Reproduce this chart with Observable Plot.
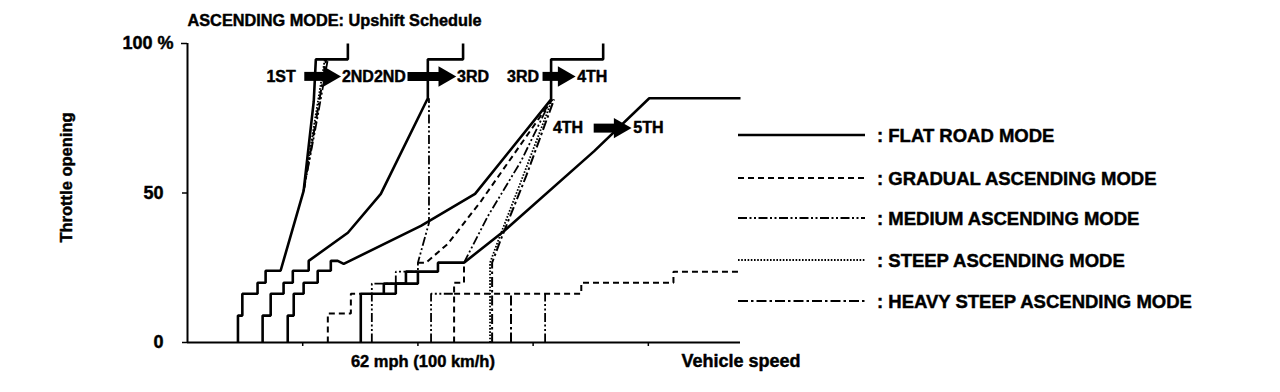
<!DOCTYPE html>
<html>
<head>
<meta charset="utf-8">
<script src="https://cdn.jsdelivr.net/npm/d3@7"></script>
<script src="https://cdn.jsdelivr.net/npm/@observablehq/plot@0.6"></script>
<style>
  html, body { margin: 0; padding: 0; background: #fff; }
  #wrap { position: relative; width: 1280px; height: 392px; overflow: hidden; background: #fff; }
  #legend { position: absolute; left: 0; top: 0; pointer-events: none; }
</style>
</head>
<body>
<div id="wrap"></div>
<script>
// ---------- texts ----------
const titleText = "ASCENDING MODE: Upshift Schedule";
const yAxisLabel = "Throttle opening";
const xMarkLabel = "62 mph (100 km/h)";
const xAxisLabel = "Vehicle speed";
const modes = ["FLAT ROAD MODE", "GRADUAL ASCENDING MODE", "MEDIUM ASCENDING MODE", "STEEP ASCENDING MODE", "HEAVY STEEP ASCENDING MODE"];

// ---------- axes (x: km/h, y: throttle %) ----------
const xTicks = [50, 100, 150, 200];
const yTicks = [0, 50];
const yTopTick = [100];
const yTopLabel = "100 %";

// ---------- upshift lines [km/h, throttle %] ----------
// FLAT ROAD MODE
const flat12 = [[21.9,0],[21.9,9],[23.8,9],[23.8,16.3],[30.4,16.3],[30.4,20],[33.9,20],[33.9,24],[40.4,24],[50.4,50.7],[54.8,80.7],[55.7,94.7],[69.6,94.7],[69.6,100]];
const flat23 = [[32.6,0],[32.6,9],[36.1,9],[36.1,16.3],[41.7,16.3],[41.7,20],[45.7,20],[45.7,24],[52.6,24],[52.6,27.3],[69.6,36.7],[83.9,49.7],[104.3,81.7],[104.3,94.7],[119.6,94.7],[119.6,100]];
const flat34 = [[43.5,0],[43.5,9],[46.1,9],[46.1,16.3],[50.4,16.3],[50.4,20],[56.5,20],[56.5,24],[62.2,24],[62.2,27.3],[65.2,27.3],[67.8,26.3],[101.3,39],[124.8,49.7],[157.8,81.3],[157.8,94.7],[180.4,94.7],[180.4,100]];
const flat45 = [[75.2,0],[75.2,16.3],[85.2,16.3],[85.2,19.7],[94.8,19.7],[94.8,23.7],[108.7,23.7],[108.7,26.7],[120,26.7],[137.4,37.3],[176.5,64],[200.4,81.7],[240,81.7]];
const flat45b = [[85.2,16.3],[90.4,16.3],[90.4,19.7],[100,19.7],[100,23.7]];
// GRADUAL ASCENDING MODE
const grad34base = [[60.9,0],[60.9,9.7],[70.9,9.7],[70.9,16.3],[75.2,16.3]];
const grad34 = [[100,26.7],[103.5,26.7],[113,33],[127.4,47.3],[142.6,64],[158.3,81.3]];
const grad45 = [[115.7,0],[115.7,20],[120,20],[120,26.7]];
const grad45b = [[115.7,16.3],[170.9,16.3],[170.9,20],[210.9,20],[210.9,23.7],[240,23.7]];
// MEDIUM ASCENDING MODE
const med12 = [[50.4,50.7],[56.1,74],[60.9,94.7]];
const med23 = [[80,0],[80,19.7],[90.4,19.7],[90.4,23.7],[100,23.7],[100,26.7],[104.8,40],[104.8,81.7]];
const med34 = [[120,26.7],[130.4,42.3],[144.8,60.7],[157.8,81.3]];
const med45 = [[105.7,0],[105.7,16.3],[115.7,16.3]];
const med45b = [[155.2,0],[155.2,16.3]];
// STEEP ASCENDING MODE
const steep12 = [[50.4,50.7],[55.2,74],[59.6,94.7]];
const steep34 = [[131.3,0],[131.3,26.7],[134.8,34],[144.8,54],[158.3,81.3]];
// HEAVY STEEP ASCENDING MODE
const heavy12 = [[50.4,50.7],[55.7,74],[60.2,94.7]];
const heavy34 = [[132.2,0],[132.2,26.7],[136.1,34.7],[147,55.7],[159.1,81.3]];
const heavy45 = [[140.4,0],[140.4,16.3]];

// ---------- shift arrows ----------
const arrowFrom = ["1ST", "2ND", "3RD", "4TH"];
const arrowTo = ["2ND", "3RD", "4TH", "5TH"];
const arrowTail = [50.9, 95.7, 154.3, 176.5];
const arrowShaftEnd = [61.3, 110, 162.2, 186.1];
const arrowTip = [66.5, 116.5, 168.3, 192.6];
const arrowY = [89, 89, 89, 71.7];
const fromLabelX = [47, 94.8, 152.6, 171.7];
const toLabelX = [67, 117, 169.1, 193.5];

// ---------- build tables ----------
const segments = [
  [0, "f12", flat12], [0, "f23", flat23], [0, "f34", flat34], [0, "f45", flat45], [0, "f45b", flat45b],
  [1, "g34b", grad34base], [1, "g34", grad34], [1, "g45", grad45], [1, "g45b", grad45b],
  [2, "m12", med12], [2, "m23", med23], [2, "m34", med34], [2, "m45", med45], [2, "m45b", med45b],
  [3, "s12", steep12], [3, "s34", steep34],
  [4, "h12", heavy12], [4, "h34", heavy34], [4, "h45", heavy45]
];
const rows = segments.flatMap(([m, id, pts]) => pts.map(([x, y]) => ({mode: modes[m], seg: id, x, y})));
const arrows = arrowFrom.map((f, i) => ({from: f, to: arrowTo[i], tail: arrowTail[i], end: arrowShaftEnd[i], tip: arrowTip[i], y: arrowY[i], fx: fromLabelX[i], tx: toLabelX[i]}));

const styles = {
  "FLAT ROAD MODE": {strokeWidth: 2.6, dash: null},
  "GRADUAL ASCENDING MODE": {strokeWidth: 2, dash: "6,4"},
  "MEDIUM ASCENDING MODE": {strokeWidth: 1.8, dash: "9,2.5,2,2.5,2,2.5"},
  "STEEP ASCENDING MODE": {strokeWidth: 1.8, dash: "1.6,1.6"},
  "HEAVY STEEP ASCENDING MODE": {strokeWidth: 2, dash: "10,3,2.5,3"}
};

const FONT = "'Liberation Sans', Arial, Helvetica, sans-serif";
const heavyText = {fontWeight: "bold", fill: "#000", stroke: "#000", strokeWidth: 0.45};

const lineMarks = modes.map(m => Plot.line(rows.filter(r => r.mode === m), {
  x: "x", y: "y", z: "seg", stroke: "#000",
  strokeWidth: styles[m].strokeWidth,
  strokeDasharray: styles[m].dash || undefined,
  strokeLinejoin: "miter", strokeLinecap: "butt"
}));

const chart = Plot.plot({
  width: 1280, height: 392,
  marginLeft: 187, marginRight: 540, marginTop: 43, marginBottom: 50,
  x: {domain: [0, 240], label: null},
  y: {domain: [0, 100], label: null},
  style: {fontFamily: FONT, fontWeight: "bold", fontSize: "18px", color: "#000", background: "#fff", overflow: "visible"},
  marks: [
    Plot.ruleX([0], {y1: 0, y2: 100, strokeWidth: 2}),
    Plot.ruleY([0], {x1: 0, x2: 240, strokeWidth: 2}),
    Plot.axisX({ticks: xTicks, tickSize: 4, tickFormat: () => "", strokeWidth: 1.5, label: null}),
    Plot.axisY({ticks: yTicks, tickSize: 5, tickPadding: 19, strokeWidth: 1.5, fontSize: 18, fontWeight: "bold", label: null}),
    Plot.axisY({ticks: yTopTick, tickSize: 6, tickPadding: 8, strokeWidth: 1.5, tickFormat: () => yTopLabel, fontSize: 18, fontWeight: "bold", label: null}),
    ...lineMarks,
    // arrows
    Plot.ruleY(arrows, {x1: "tail", x2: "end", y: "y", stroke: "#000", strokeWidth: 9}),
    Plot.dot(arrows, {x: "tip", y: "y", dx: -11.5, symbol: "triangle", rotate: 90, r: 7.6, fill: "#000", stroke: null}),
    Plot.text(arrows, {x: "fx", y: "y", text: "from", textAnchor: "end", lineAnchor: "middle", fontSize: 16, ...heavyText}),
    Plot.text(arrows, {x: "tx", y: "y", text: "to", textAnchor: "start", lineAnchor: "middle", fontSize: 16, ...heavyText}),
    // title & labels
    Plot.text([titleText], {text: d => d, frameAnchor: "top-left", dy: -18, textAnchor: "start", lineAnchor: "bottom", fontSize: 16.3, ...heavyText}),
    Plot.text([yAxisLabel], {text: d => d, frameAnchor: "left", dx: -121, dy: -15.5, rotate: -90, textAnchor: "middle", lineAnchor: "middle", fontSize: 16.5, ...heavyText}),
    Plot.text([xMarkLabel], {text: d => d, x: () => 100, frameAnchor: "bottom", dx: 5, dy: 19, textAnchor: "middle", lineAnchor: "middle", fontSize: 16.5, ...heavyText}),
    Plot.text([xAxisLabel], {text: d => d, frameAnchor: "bottom-right", dx: -59, dy: 19, textAnchor: "start", lineAnchor: "middle", fontSize: 18, ...heavyText})
  ]
});

const wrap = document.getElementById("wrap");
wrap.appendChild(chart);
// heavier axis tick labels
d3.select(chart).selectAll("g[aria-label='y-axis tick label'] text, g[aria-label='y-axis tick label']")
  .attr("stroke", "#000").attr("stroke-width", 0.45);

// ---------- legend ----------
const legendRowY = [135, 178, 218, 260, 301];
const legend = d3.select(wrap).append("svg")
  .attr("id", "legend").attr("width", 1280).attr("height", 392);
const items = legend.selectAll("g").data(modes).join("g")
  .attr("transform", (d, i) => `translate(738,${legendRowY[i]})`);
items.append("line")
  .attr("x1", 0).attr("x2", 127).attr("y1", 0).attr("y2", 0)
  .attr("stroke", "#000")
  .attr("stroke-width", d => styles[d].strokeWidth)
  .attr("stroke-dasharray", d => styles[d].dash);
items.append("text")
  .attr("x", 139).attr("y", 0).attr("dy", "0.36em")
  .attr("font-family", FONT).attr("font-weight", "bold").attr("font-size", 18.5)
  .attr("fill", "#000").attr("stroke", "#000").attr("stroke-width", 0.45)
  .text(d => ": " + d);
</script>
</body>
</html>
